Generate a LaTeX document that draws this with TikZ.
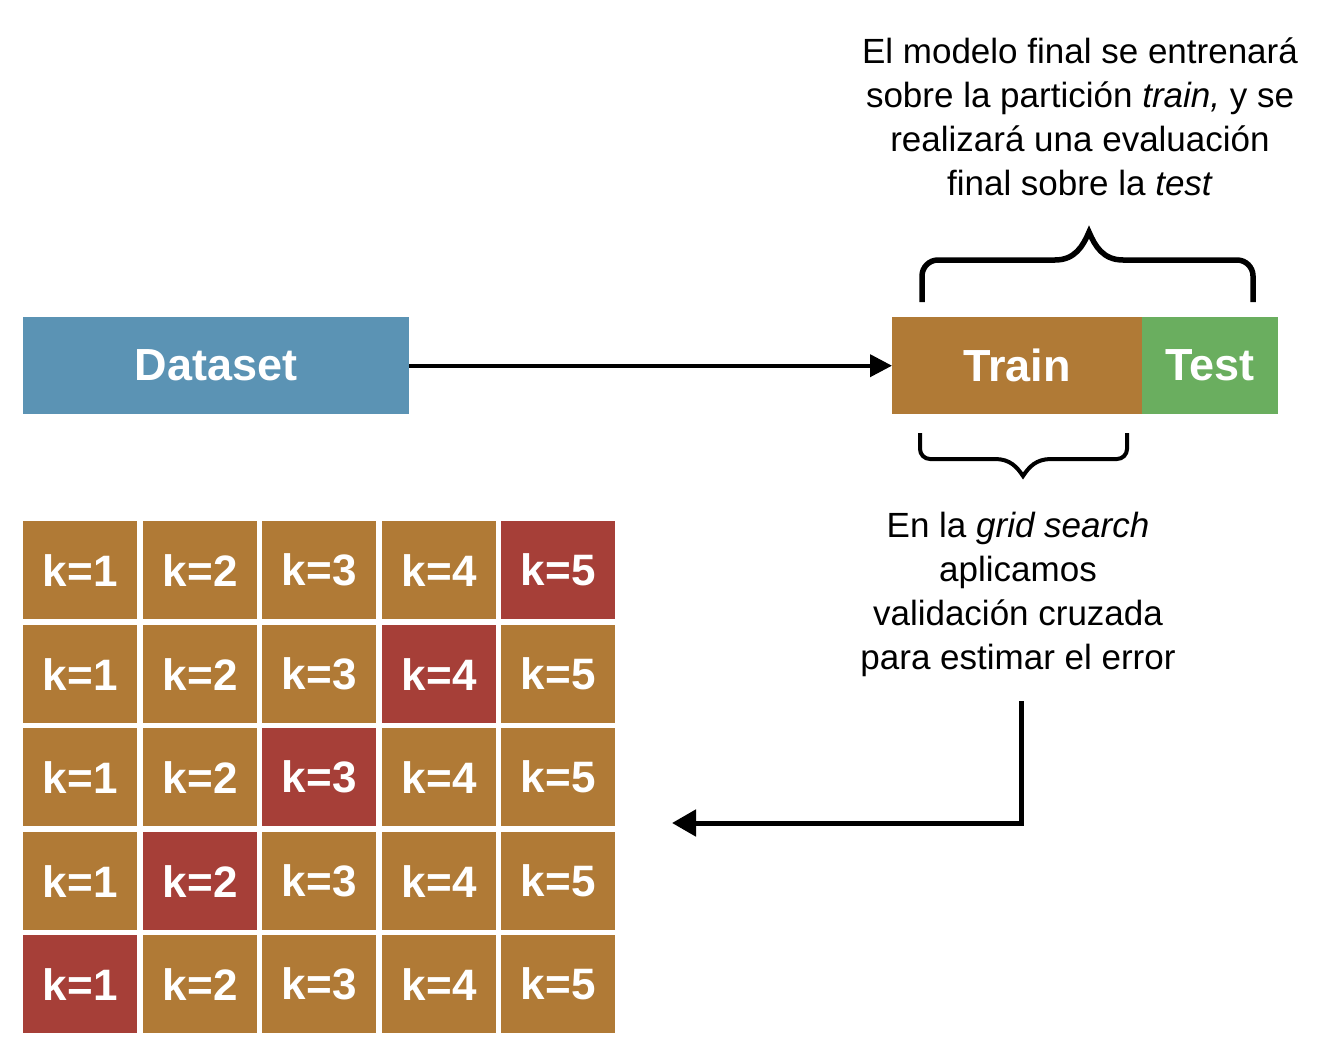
\documentclass[tikz,border=0pt]{standalone}
\usepackage{fontspec}
\setmainfont{Liberation Sans}
\usetikzlibrary{arrows.meta}
\definecolor{cblue}{RGB}{91,147,180}
\definecolor{cbrown}{RGB}{176,122,54}
\definecolor{cgreen}{RGB}{106,174,95}
\definecolor{cred}{RGB}{166,63,56}
\tikzset{
  box/.style={draw=none, inner sep=0pt, text=white, font=\fontsize{45}{50}\selectfont\bfseries, anchor=north west},
  cell/.style={box, font=\fontsize{44}{50}\selectfont\bfseries, minimum width=114pt, minimum height=98pt, fill=cbrown},
  redcell/.style={cell, fill=cred},
  note/.style={align=center, font=\fontsize{35}{44}\selectfont, inner sep=0pt},
  conn/.style={line width=4pt, -{Triangle[length=22pt,width=22pt]}},
  brace/.style={line width=5.5pt, line cap=butt}
}
\begin{document}
\begin{tikzpicture}[x=1pt,y=-1pt]
\useasboundingbox (0,0) rectangle (1322,1054);
\node[box, fill=cblue, minimum width=386pt, minimum height=97pt] (dataset) at (23,317) {Dataset};
\node[box, fill=cbrown, minimum width=250pt, minimum height=97pt] (train) at (892,317) {Train};
\node[box, fill=cgreen, minimum width=136pt, minimum height=97pt] (test) at (1142,317) {Test};
\draw[conn] (dataset.east) -- (train.west);
% top brace
\draw[brace] (922,302) -- (922,276) arc[start angle=180,end angle=270,radius=16] -- (1055,260)
  .. controls (1075,260) and (1083,246) .. (1089,232)
  .. controls (1095,246) and (1103,260) .. (1123,260) -- (1237,260)
  arc[start angle=270,end angle=360,radius=16] -- (1253,302);
% bottom brace
\draw[line width=4pt] (920,433) -- (920,449) arc[start angle=180,end angle=90,radius=10] -- (995,459)
  .. controls (1010,459) and (1017,467) .. (1023,476)
  .. controls (1029,467) and (1036,459) .. (1051,459) -- (1117,459)
  arc[start angle=90,end angle=0,radius=10] -- (1127,433);
\node[note] (top) at (1080,117) {El modelo final se entrenará\\sobre la partición \textit{train,} y se\\realizará una evaluación\\final sobre la \textit{test}};
\node[note] (bottom) at (1018,594) {En la \textit{grid search}\\aplicamos\\validación cruzada\\para estimar el error};
% grid
\foreach \r/\y in {1/521,2/625,3/728,4/832,5/935}{
  \foreach \c/\x in {1/23,2/143,3/262,4/382,5/501}{
    \pgfmathtruncatemacro{\red}{(\r+\c==6)?1:0}
    \ifnum\red=1
      \node[redcell] (g\r\c) at (\x,\y) {k=\c};
    \else
      \node[cell] (g\r\c) at (\x,\y) {k=\c};
    \fi
  }
}
\coordinate (cvstart) at (1021,701);
\coordinate (cvend) at (672,823);
\draw[line width=5pt, -{Triangle[length=24pt,width=26pt]}] (cvstart) -- (1021,823) -- (cvend);
\end{tikzpicture}
\end{document}
